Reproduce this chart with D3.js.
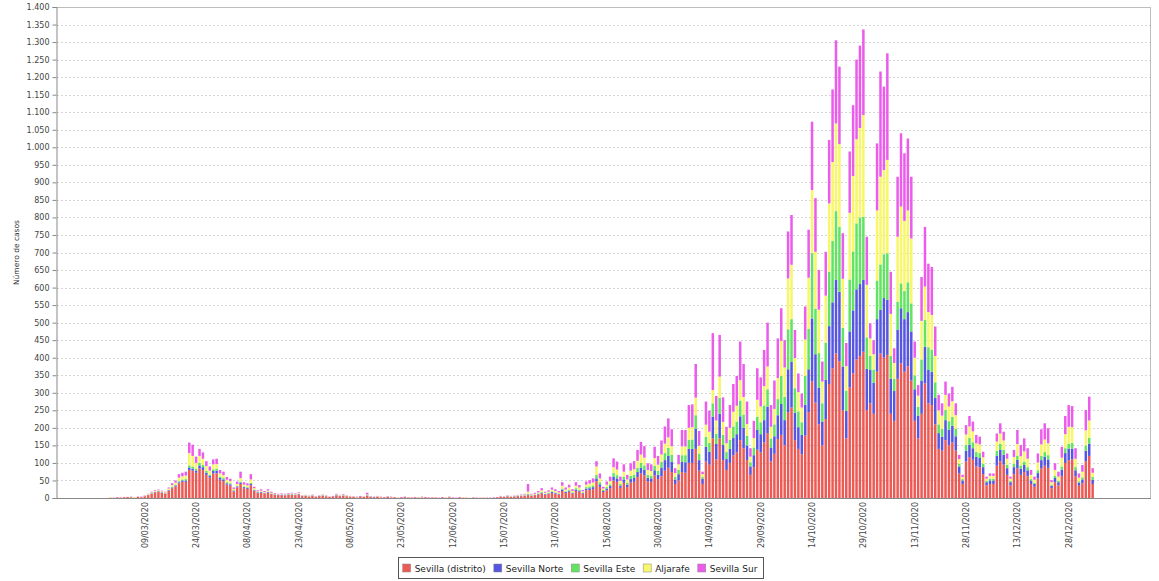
<!DOCTYPE html>
<html><head><meta charset="utf-8">
<script src="https://cdn.jsdelivr.net/npm/d3@7"></script>
<style>
body{margin:0;background:#fff}
svg{display:block}
text{font-family:"DejaVu Sans",sans-serif}
</style>
</head><body><svg id="c" width="1159" height="581"></svg>
<script>
// ---------- categories (dates with data) ----------
const dailyStart1 = "2020-02-13", dailyEnd1 = "2020-05-23";
const sparseDates = [
  "25/05/2020","26/05/2020","27/05/2020","28/05/2020","29/05/2020","01/06/2020","02/06/2020","03/06/2020",
  "04/06/2020","05/06/2020","08/06/2020","09/06/2020","10/06/2020","11/06/2020","12/06/2020",
  "15/06/2020","17/06/2020","19/06/2020","22/06/2020","24/06/2020","26/06/2020","29/06/2020","01/07/2020",
  "03/07/2020","06/07/2020","08/07/2020","10/07/2020","13/07/2020","14/07/2020","15/07/2020",
  "16/07/2020","17/07/2020","18/07/2020","19/07/2020","20/07/2020","21/07/2020","22/07/2020","23/07/2020",
  "24/07/2020","25/07/2020","27/07/2020","28/07/2020","29/07/2020","30/07/2020","31/07/2020"];
const dailyStart2 = "2020-08-01", dailyEnd2 = "2021-01-04";

const tickLabels = ["09/03/2020","24/03/2020","08/04/2020","23/04/2020","08/05/2020","23/05/2020","12/06/2020",
  "15/07/2020","31/07/2020","15/08/2020","30/08/2020","14/09/2020","29/09/2020","14/10/2020","29/10/2020",
  "13/11/2020","28/11/2020","13/12/2020","28/12/2020"];

const yTickValues = [0,50,100,150,200,250,300,350,400,450,500,550,600,650,700,750,800,850,900,950,1000,
  1050,1100,1150,1200,1250,1300,1350,1400];

const seriesNames = ["Sevilla (distrito)","Sevilla Norte","Sevilla Este","Aljarafe","Sevilla Sur"];
const seriesColors = ["#eb5a55","#5656e2","#62e462","#f7f769","#eb5ceb"];

// ---------- series values (one per category) ----------
const sevillaDistrito = [
0,0,0,0,0,0,0,0,0,0, 0,0,0,0,0,1,0,2,1,2, 3,2,1,3,2,5,8,12,16,18, 15,12,20,28,33,42,46,46,80,78,
72,84,80,66,58,70,70,52,48,38, 35,19,30,40,28,26,36,20,14,15, 13,15,11,9,8,8,7,9,9,8, 10,5,6,4,6,4,5,6,5,3,
4,7,5,6,5,4,3,2,4,3, 6,3,2,4,2,2,3,2,2,1, 2,2,2,1,2,1,2,2,1,2, 1,1,2,1,2,1,0,2,1,1,
0,1,1,0,1,1,0,1,2,3, 3,4,3,4,5,5,6,8,6,8, 10,13,9,11,14,12,10,20,14,18, 12,20,18,12,22,23,25,48,32,17,
22,28,50,46,29,43,31,44,46,60, 70,65,48,46,64,54,62,78,86,74, 40,50,74,72,100,100,140,78,40,104,
95,170,110,170,108,80,100,122,130,165, 142,108,66,88,138,130,158,185,104,126, 168,180,150,245,258,165,140,125,178,245,
332,272,210,150,225,325,370,412,390,250, 170,315,355,395,405,417,250,270,240,360, 412,400,408,240,220,340,384,360,375,335,
220,170,240,327,270,265,210,140,135,165, 150,158,135,70,40,104,117,109,90,88, 68,36,40,40,92,105,95,66,36,68,
85,66,74,62,40,32,56,84,92,86, 28,45,36,63,100,108,110,62,35,42, 105,120,40];

const sevillaNorte = [
0,0,0,0,0,0,0,0,0,0, 0,0,0,0,0,0,0,0,0,0, 0,0,0,0,0,0,1,1,1,1, 1,1,2,2,3,3,4,4,7,6,
6,9,8,6,5,7,8,5,5,4, 4,2,3,4,3,3,4,2,2,2, 1,2,1,1,1,1,1,1,1,1, 1,1,0,1,1,0,1,1,0,0,
1,1,1,1,0,0,0,0,1,0, 1,0,1,0,0,0,0,0,0,0, 0,1,0,0,0,0,0,0,0,0, 0,0,0,0,0,0,0,0,0,0,
0,0,0,0,0,0,0,0,0,1, 0,1,0,1,1,1,1,2,1,1, 2,2,2,2,3,2,2,4,3,3, 2,4,3,2,5,5,6,8,7,3,
5,6,11,10,6,10,7,10,11,14, 16,15,10,10,15,12,25,30,34,29, 13,18,29,30,40,40,58,30,15,42,
37,62,44,70,43,31,40,49,52,68, 58,42,24,34,56,52,64,75,40,50, 68,88,72,122,130,78,62,55,88,122,
180,138,105,68,112,165,188,210,198,125, 78,160,180,200,205,205,118,95,88,150, 124,170,157,100,85,140,157,150,155,140,
90,65,95,104,95,95,75,45,40,57, 45,48,41,20,10,31,35,33,27,26, 20,9,10,10,28,32,28,19,9,20,
24,18,20,17,10,8,15,24,26,24, 7,12,9,18,28,33,31,17,9,11, 30,35,12];

const sevillaEste = [
0,0,0,0,0,0,0,0,0,0, 0,0,0,0,0,0,0,0,0,0, 0,1,0,0,0,1,0,1,1,1, 1,1,1,2,2,3,3,4,6,6,
5,7,6,5,4,5,6,4,4,3, 3,2,2,3,2,2,3,2,1,1, 1,1,1,1,0,1,1,1,1,1, 1,0,1,0,1,0,0,1,1,0,
0,1,0,1,1,0,1,0,0,0, 1,1,0,0,0,0,1,0,0,0, 0,0,0,0,0,1,0,0,0,0, 0,0,0,0,1,0,0,0,0,0,
0,0,0,0,0,0,0,0,0,0, 0,1,1,0,1,1,1,2,1,1, 1,2,1,2,2,2,1,3,2,3, 2,4,3,2,4,5,5,10,6,3,
4,5,10,9,5,8,6,9,9,12, 14,13,8,8,13,11,16,20,23,20, 8,12,19,20,26,27,38,19,5,28,
25,38,29,46,29,20,26,33,36,45, 38,27,12,22,38,34,42,50,26,34, 46,80,66,114,122,70,45,36,82,115,
186,130,98,52,106,155,175,196,185,110, 58,148,168,188,190,180,90,40,38,110, 130,125,133,65,35,80,71,80,85,80,
40,25,60,77,65,62,45,25,22,29, 24,25,22,8,4,17,19,17,14,14, 10,4,5,5,15,17,15,10,4,10,
12,9,10,9,4,3,8,12,13,12, 3,6,4,9,14,14,16,9,4,6, 15,17,8];

const aljarafe = [
0,0,0,0,0,0,0,0,0,0, 0,0,0,0,0,1,0,0,1,0, 0,0,1,1,0,1,2,2,2,2, 2,2,4,5,6,10,9,10,35,30,
17,20,18,14,11,14,13,9,8,7, 6,3,5,10,5,5,10,4,2,3, 2,3,2,1,1,1,1,1,2,1, 2,1,1,1,1,1,1,1,1,1,
0,1,2,1,1,1,0,1,0,1, 2,0,0,1,1,0,0,1,0,1, 0,0,1,0,0,0,1,0,0,1, 0,0,0,1,0,0,0,0,1,0,
1,0,0,0,1,0,0,0,0,1, 1,1,1,1,1,1,2,6,2,2, 3,5,3,3,5,4,3,8,5,6, 4,7,6,3,7,8,8,24,11,4,
7,9,17,16,9,14,9,15,16,20, 24,22,14,13,22,18,21,27,30,25, 10,16,25,25,34,35,50,22,8,35,
32,38,38,60,37,25,34,42,45,58, 50,34,16,27,48,45,55,65,33,44, 60,100,84,145,155,86,55,42,104,146,
180,162,124,62,134,195,225,250,236,140, 70,190,215,240,255,290,150,50,44,200, 250,240,266,120,45,185,219,200,205,185,
50,32,110,95,100,100,75,40,38,43, 42,45,38,13,6,29,33,31,25,25, 18,6,8,8,26,30,26,17,6,19,
33,26,29,24,12,9,22,33,36,34, 7,17,12,25,40,48,45,24,10,16, 43,49,12];

const sevillaSur = [
0,0,0,0,0,0,0,0,0,0, 0,0,0,0,0,0,1,0,1,1, 0,1,0,1,2,1,1,2,2,2, 2,2,3,5,6,10,10,11,30,32,
18,20,18,14,12,14,15,10,10,8, 7,4,7,18,7,6,15,4,3,4, 3,4,3,2,2,2,2,2,2,2, 2,1,1,1,1,1,1,1,1,1,
1,2,1,2,1,1,1,1,1,1, 5,1,1,1,1,1,1,1,1,0, 1,1,0,1,1,0,1,1,1,0, 1,0,1,0,1,1,1,1,0,0,
0,1,0,1,0,0,1,1,1,1, 1,1,1,1,1,2,2,22,2,3, 4,6,3,4,6,5,4,10,6,8, 5,10,7,4,9,10,12,15,14,5,
9,13,25,23,12,21,13,21,23,31, 36,33,19,19,32,25,40,49,54,48, 14,27,47,47,65,65,96,42,7,66,
60,162,70,119,70,47,65,79,85,110, 94,64,24,49,90,83,103,125,62,81, 113,93,78,134,142,80,53,40,94,137,
195,153,113,57,125,181,207,237,221,130, 66,175,202,227,235,244,137,43,40,191, 300,238,304,120,42,171,209,193,205,176,
46,30,125,170,138,137,84,44,35,38, 37,41,34,12,6,27,30,28,24,22, 16,6,7,7,23,29,25,15,6,20,
40,32,37,30,14,9,26,43,46,43, 6,19,14,31,52,62,60,30,12,19, 58,68,13];

// ---------- build categories ----------
const fmt = d3.timeFormat("%d/%m/%Y"), parse = d3.timeParse("%Y-%m-%d");
const categories = [
  ...d3.timeDay.range(parse(dailyStart1), d3.timeDay.offset(parse(dailyEnd1), 1)).map(fmt),
  ...sparseDates,
  ...d3.timeDay.range(parse(dailyStart2), d3.timeDay.offset(parse(dailyEnd2), 1)).map(fmt)
];
const seriesData = [sevillaDistrito, sevillaNorte, sevillaEste, aljarafe, sevillaSur];
const keys = seriesNames;
const rows = categories.map((c, i) => {
  const r = {cat: c};
  keys.forEach((k, j) => r[k] = seriesData[j][i] || 0);
  return r;
});

// ---------- layout ----------
const svg = d3.select("#c");
const plotL = 57, plotR = 1151, plotT = 7, plotB = 498;
const step = 3.422;
const x = d3.scaleBand().domain(categories)
  .range([plotL + 0.5, plotL + 0.5 + categories.length * step])
  .paddingInner(0.27).paddingOuter(0.135);
const y = d3.scaleLinear().domain([0, 1400]).range([plotB, plotT]);
const color = d3.scaleOrdinal().domain(keys).range(seriesColors);
const loc = d3.formatLocale({decimal: ",", thousands: ".", grouping: [3], currency: ["", "€"]});
const yFmt = loc.format(",d");

// background + gridlines
svg.append("rect").attr("x", plotL).attr("y", plotT).attr("width", plotR - plotL).attr("height", plotB - plotT).attr("fill", "#fff");
svg.append("g").selectAll("line").data(yTickValues.filter(v => v > 0)).join("line")
  .attr("x1", plotL).attr("x2", plotR)
  .attr("y1", d => Math.round(y(d)) + 0.5).attr("y2", d => Math.round(y(d)) + 0.5)
  .attr("stroke", "#d6d6d6").attr("stroke-width", 1).attr("stroke-dasharray", "2,2");

// bars
const stacked = d3.stack().keys(keys)(rows);
svg.append("g").selectAll("g").data(stacked).join("g")
  .attr("fill", d => color(d.key))
  .selectAll("rect").data(d => d.filter(p => p[1] - p[0] > 0)).join("rect")
  .attr("x", d => x(d.data.cat))
  .attr("width", x.bandwidth())
  .attr("y", d => y(d[1]))
  .attr("height", d => y(d[0]) - y(d[1]));

// plot outline (right/top)
svg.append("path").attr("d", `M${plotL},${plotT + 0.5}H${plotR - 0.5}V${plotB}`)
  .attr("fill", "none").attr("stroke", "#bdbdbd");

// y axis
const yAxis = svg.append("g").attr("transform", `translate(${plotL - 0.5},0)`)
  .call(d3.axisLeft(y).tickValues(yTickValues).tickFormat(yFmt).tickSize(4).tickPadding(3));
yAxis.select(".domain").attr("stroke", "#888");
yAxis.selectAll(".tick line").attr("stroke", "#888");
yAxis.selectAll("text").attr("font-size", "8px").attr("fill", "#444").attr("font-family", "DejaVu Sans");

// x axis line
svg.append("line").attr("x1", plotL).attr("x2", plotR).attr("y1", plotB + 0.5).attr("y2", plotB + 0.5)
  .attr("stroke", "#888");

// x labels
svg.append("g").selectAll("text").data(tickLabels).join("text")
  .attr("transform", d => `translate(${x(d) + x.bandwidth() / 2 + 3},${plotB + 4}) rotate(-90)`)
  .attr("text-anchor", "end")
  .attr("font-size", "8px").attr("fill", "#444")
  .text(d => d);

// y title
svg.append("text").attr("transform", `translate(19,${(plotT + plotB) / 2}) rotate(-90)`)
  .attr("text-anchor", "middle").attr("font-size", "7.5px").attr("fill", "#333")
  .text("Número de casos");

// legend
const lg = svg.append("g");
const items = lg.selectAll("g").data(keys).join("g");
items.append("rect").attr("width", 8).attr("height", 8).attr("fill", d => color(d))
  .attr("stroke", "#888").attr("stroke-width", 0.5);
items.append("text").attr("x", 12).attr("y", 8).attr("font-size", "9px").attr("fill", "#222").text(d => d);
let cx = 0;
const widths = [];
items.each(function () { widths.push(this.querySelector("text").getComputedTextLength()); });
const gap = 8;
const total = widths.reduce((a, w) => a + 12 + w, 0) + gap * (widths.length - 1);
const lx0 = 580 - total / 2;
items.attr("transform", (d, i) => {
  const t = `translate(${lx0 + cx},564)`;
  cx += 12 + widths[i] + gap;
  return t;
});
lg.insert("rect", ":first-child").attr("x", Math.round(lx0 - 5) + 0.5).attr("y", 557.5)
  .attr("width", Math.round(total + 10)).attr("height", 21)
  .attr("fill", "#fff").attr("stroke", "#555");
</script>
</body></html>
